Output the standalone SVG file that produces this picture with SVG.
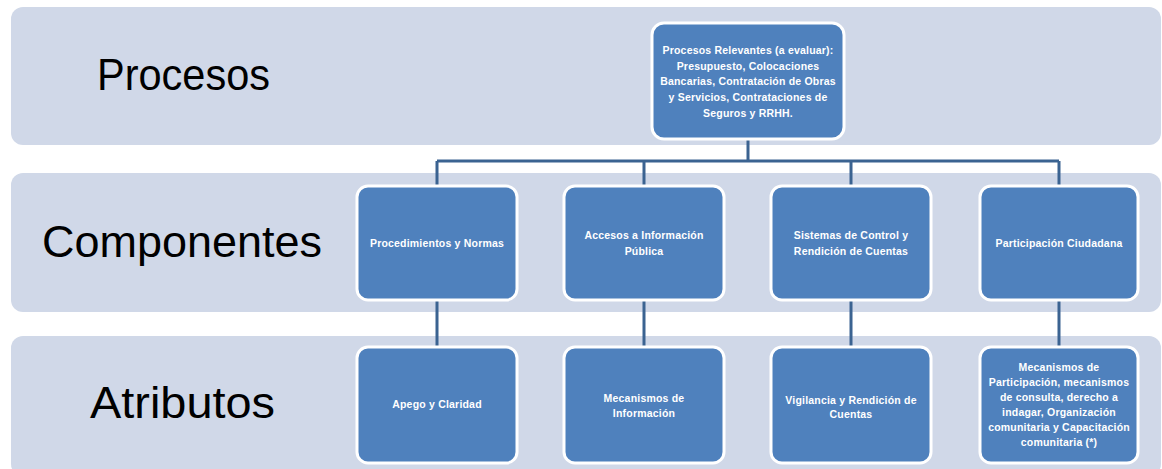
<svg xmlns="http://www.w3.org/2000/svg" width="1162" height="469" viewBox="0 0 1162 469">
<style>
.band{fill:#d0d8e8;}
.lbl{font-family:"Liberation Sans",Arial,sans-serif;font-size:44px;fill:#000;text-anchor:start;}
.node rect{fill:#4f81bd;stroke:#ffffff;stroke-width:3;}
.node text{font-family:"Liberation Sans",Arial,sans-serif;font-size:10.5px;font-weight:bold;fill:#ffffff;text-anchor:middle;letter-spacing:0.2px;}
.conn{fill:none;stroke:#3b6391;stroke-width:3;}
</style>
<rect width="1162" height="469" fill="#ffffff"/>
<g id="bands">
<rect class="band" x="11" y="7" width="1150" height="138" rx="12"/>
<rect class="band" x="11" y="173" width="1150" height="139" rx="12"/>
<rect class="band" x="11" y="336" width="1150" height="140" rx="12"/>
<text class="lbl" x="97" y="90" textLength="173" lengthAdjust="spacingAndGlyphs">Procesos</text>
<text class="lbl" x="42" y="257" textLength="280" lengthAdjust="spacingAndGlyphs">Componentes</text>
<text class="lbl" x="90" y="418" textLength="185" lengthAdjust="spacingAndGlyphs">Atributos</text>
</g>
<g id="connectors">
<path class="conn" d="M748 139 V161 M437 161 H1059 M437 161 V186 M644 161 V186 M851 161 V186 M1059 161 V186"/>
<path class="conn" d="M437 300 V347 M644 300 V347 M851 300 V347 M1059 300 V347"/>
</g>
<g id="n-procesos" class="node">
<rect x="652" y="23" width="192" height="116" rx="12"/>
<text x="748" y="54">Procesos Relevantes (a evaluar):</text>
<text x="748" y="70">Presupuesto,  Colocaciones</text>
<text x="748" y="85">Bancarias, Contratación de Obras</text>
<text x="748" y="101">y Servicios, Contrataciones de</text>
<text x="748" y="117">Seguros y RRHH.</text>
</g>
<g id="n-procedimientos" class="node">
<rect x="357" y="186" width="160" height="114" rx="11"/>
<text x="437" y="247">Procedimientos y Normas</text>
</g>
<g id="n-accesos" class="node">
<rect x="564" y="186" width="160" height="114" rx="11"/>
<text x="644" y="239">Accesos a Información</text>
<text x="644" y="255">Pública</text>
</g>
<g id="n-sistemas" class="node">
<rect x="771" y="186" width="160" height="114" rx="11"/>
<text x="851" y="239">Sistemas de Control y</text>
<text x="851" y="255">Rendición de Cuentas</text>
</g>
<g id="n-participacion" class="node">
<rect x="980" y="186" width="158" height="114" rx="11"/>
<text x="1059" y="247">Participación Ciudadana</text>
</g>
<g id="n-apego" class="node">
<rect x="357" y="347" width="160" height="116" rx="11"/>
<text x="437" y="408">Apego y Claridad</text>
</g>
<g id="n-mecinfo" class="node">
<rect x="564" y="347" width="160" height="116" rx="11"/>
<text x="644" y="402">Mecanismos de</text>
<text x="644" y="417">Información</text>
</g>
<g id="n-vigilancia" class="node">
<rect x="771" y="347" width="160" height="116" rx="11"/>
<text x="851" y="404">Vigilancia y Rendición de</text>
<text x="851" y="418">Cuentas</text>
</g>
<g id="n-mecpart" class="node">
<rect x="980" y="347" width="158" height="116" rx="11"/>
<text x="1059" y="371">Mecanismos de</text>
<text x="1059" y="386">Participación, mecanismos</text>
<text x="1059" y="401">de consulta, derecho a</text>
<text x="1059" y="416">indagar, Organización</text>
<text x="1059" y="431">comunitaria y Capacitación</text>
<text x="1059" y="446">comunitaria (*)</text>
</g>
</svg>
